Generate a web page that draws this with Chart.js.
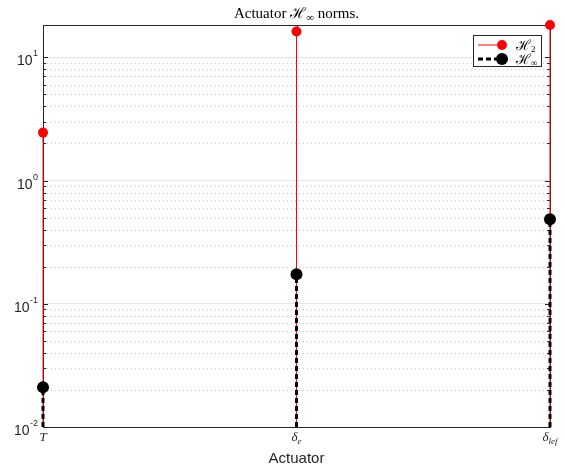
<!DOCTYPE html>
<html>
<head>
<meta charset="utf-8">
<script src="https://cdn.jsdelivr.net/npm/chart.js@4.4.0/dist/chart.umd.min.js"></script>
<style>
html, body { margin: 0; padding: 0; background: #fff; }
#wrap { width: 565px; height: 470px; }
</style>
</head>
<body>
<div id="wrap"><canvas id="chart" width="565" height="470"></canvas></div>
<script>
// actuators and their norms
const actuatorBase = ['T', 'δ', 'δ'];
const actuatorSub = ['', 'e', 'lef'];
const h2Norms = [2.45, 16.2, 18.3];
const hinfNorms = [0.021, 0.174, 0.486];
const yDecades = [0.01, 0.1, 1, 10];
const yExponents = ['-2', '-1', '0', '1'];
const yMin = 0.01, yMax = 18.3;

const axisColor = '#262626';
const serif = '"Liberation Serif", "DejaVu Serif", serif';
const sans = '"Liberation Sans", Arial, sans-serif';

// stems: pairs of points from the baseline to the value, split with nulls
function stems(values) {
    const pts = [];
    values.forEach((v, i) => {
        pts.push({x: i + 1, y: yMin}, {x: i + 1, y: v}, {x: i + 1, y: null});
    });
    return pts;
}
function marks(values) {
    return values.map((v, i) => ({x: i + 1, y: v}));
}

const frame = {
    id: 'frame',
    beforeDatasetsDraw(chart) {
        const ctx = chart.ctx;
        const a = chart.chartArea;
        const ys = chart.scales.y, xs = chart.scales.x;
        ctx.save();
        // minor dotted grid
        ctx.strokeStyle = '#c4c4c4';
        ctx.lineWidth = 1;
        ctx.setLineDash([1, 3]);
        for (let k = -2; k <= 1; k++) {
            for (let m = 2; m <= 9; m++) {
                const v = m * Math.pow(10, k);
                if (v >= yMax) continue;
                const y = Math.round(ys.getPixelForValue(v)) + 0.5;
                ctx.beginPath();
                ctx.moveTo(a.left, y);
                ctx.lineTo(a.right, y);
                ctx.stroke();
            }
        }
        ctx.setLineDash([]);
        // box
        ctx.strokeStyle = axisColor;
        ctx.strokeRect(Math.round(a.left) + 0.5, Math.round(a.top) + 0.5,
            Math.round(a.right - a.left), Math.round(a.bottom - a.top));
        // inner ticks
        ctx.beginPath();
        for (let k = -2; k <= 1; k++) {
            for (let m = 1; m <= 9; m++) {
                const v = m * Math.pow(10, k);
                if (v >= yMax) continue;
                const len = m === 1 ? 5 : 3;
                const y = Math.round(ys.getPixelForValue(v)) + 0.5;
                ctx.moveTo(a.left, y); ctx.lineTo(a.left + len, y);
                ctx.moveTo(a.right, y); ctx.lineTo(a.right - len, y);
            }
        }
        actuatorBase.forEach((b, i) => {
            const x = Math.round(xs.getPixelForValue(i + 1)) + 0.5;
            ctx.moveTo(x, a.bottom); ctx.lineTo(x, a.bottom - 5);
            ctx.moveTo(x, a.top); ctx.lineTo(x, a.top + 5);
        });
        ctx.stroke();
        ctx.restore();
    },
    afterDraw(chart) {
        const ctx = chart.ctx;
        const a = chart.chartArea;
        const ys = chart.scales.y, xs = chart.scales.x;
        ctx.save();
        ctx.fillStyle = axisColor;
        // y tick labels 10^n
        yDecades.forEach((v, i) => {
            const y = ys.getPixelForValue(v);
            ctx.font = '9px ' + sans;
            ctx.textAlign = 'right';
            ctx.textBaseline = 'alphabetic';
            const ex = yExponents[i];
            const exW = ctx.measureText(ex).width;
            const right = a.left - 5;
            ctx.fillText(ex, right, y - 1);
            ctx.font = '14px ' + sans;
            ctx.fillText('10', right - exW - 0.5, y + 8);
        });
        // x tick labels with subscripts
        actuatorBase.forEach((b, i) => {
            const x = xs.getPixelForValue(i + 1);
            ctx.textAlign = 'left';
            ctx.textBaseline = 'alphabetic';
            ctx.font = 'italic 13px ' + serif;
            const bw = ctx.measureText(b).width;
            ctx.font = 'italic 9px ' + serif;
            const sw = ctx.measureText(actuatorSub[i]).width;
            const x0 = x - (bw + sw) / 2;
            ctx.font = 'italic 13px ' + serif;
            ctx.fillText(b, x0, a.bottom + 14);
            ctx.font = 'italic 9px ' + serif;
            ctx.fillText(actuatorSub[i], x0 + bw, a.bottom + 17);
        });
        // x axis title
        ctx.font = '15px ' + sans;
        ctx.textAlign = 'center';
        ctx.fillText('Actuator', (a.left + a.right) / 2, a.bottom + 36);
        // chart title
        ctx.fillStyle = '#000';
        const parts = [['Actuator ', 15, 0], ['ℋ', 15, 0], ['∞', 11, 3], [' norms.', 15, 0]];
        let total = 0;
        parts.forEach(p => { ctx.font = p[1] + 'px ' + serif; total += ctx.measureText(p[0]).width; });
        let tx = (a.left + a.right) / 2 - total / 2;
        ctx.textAlign = 'left';
        parts.forEach(p => {
            ctx.font = p[1] + 'px ' + serif;
            ctx.fillText(p[0], tx, 18 + p[2]);
            tx += ctx.measureText(p[0]).width;
        });
        // legend
        const lx = 473.5, ly = 35.5, lw = 68, lh = 31;
        ctx.fillStyle = '#fff';
        ctx.fillRect(lx, ly, lw, lh);
        ctx.strokeStyle = axisColor;
        ctx.lineWidth = 1;
        ctx.strokeRect(lx, ly, lw, lh);
        const rows = [
            {color: '#ff0000', width: 1, dash: [], r: 5, sub: '2', y: 45},
            {color: '#000000', width: 3, dash: [5, 3], r: 6, sub: '∞', y: 59}
        ];
        rows.forEach(row => {
            ctx.strokeStyle = row.color;
            ctx.lineWidth = row.width;
            ctx.setLineDash(row.dash);
            ctx.beginPath();
            ctx.moveTo(478, row.y);
            ctx.lineTo(502, row.y);
            ctx.stroke();
            ctx.setLineDash([]);
            ctx.fillStyle = row.color;
            ctx.beginPath();
            ctx.arc(502, row.y, row.r, 0, Math.PI * 2);
            ctx.fill();
            ctx.fillStyle = '#000';
            ctx.textAlign = 'left';
            ctx.font = '14px ' + serif;
            ctx.fillText('ℋ', 516, row.y + 5);
            const hw = ctx.measureText('ℋ').width;
            ctx.font = '9px ' + serif;
            ctx.fillText(row.sub, 516 + hw, row.y + 7);
        });
        ctx.restore();
    }
};

new Chart(document.getElementById('chart'), {
    type: 'line',
    data: {
        datasets: [
            {
                data: marks(hinfNorms), showLine: false, order: 0,
                pointRadius: 6, pointBackgroundColor: '#000', pointBorderColor: '#000',
                pointBorderWidth: 0, clip: false
            },
            {
                data: stems(hinfNorms), borderColor: '#000', borderWidth: 3,
                borderDash: [5, 3], pointRadius: 0, spanGaps: false, order: 1, clip: false
            },
            {
                data: marks(h2Norms), showLine: false, order: 2,
                pointRadius: 5, pointBackgroundColor: '#ff0000', pointBorderColor: '#ff0000',
                pointBorderWidth: 0, clip: false
            },
            {
                data: stems(h2Norms), borderColor: '#ff0000', borderWidth: 1,
                pointRadius: 0, spanGaps: false, order: 3, clip: false
            }
        ]
    },
    options: {
        responsive: false,
        animation: false,
        devicePixelRatio: 1,
        layout: { padding: { left: 43, top: 25, right: 15, bottom: 43 } },
        plugins: { legend: { display: false }, title: { display: false }, tooltip: { enabled: false } },
        scales: {
            x: {
                type: 'linear', min: 1, max: 3,
                afterFit: scale => { scale.height = 0; },
                grid: { display: false },
                border: { display: false },
                ticks: { display: false }
            },
            y: {
                type: 'logarithmic', min: yMin, max: yMax,
                afterFit: scale => { scale.width = 0; },
                afterBuildTicks: scale => { scale.ticks = yDecades.map(v => ({value: v})); },
                grid: { color: '#e3e3e3', drawTicks: false },
                border: { display: false },
                ticks: { display: false }
            }
        }
    },
    plugins: [frame]
});
</script>
</body>
</html>
